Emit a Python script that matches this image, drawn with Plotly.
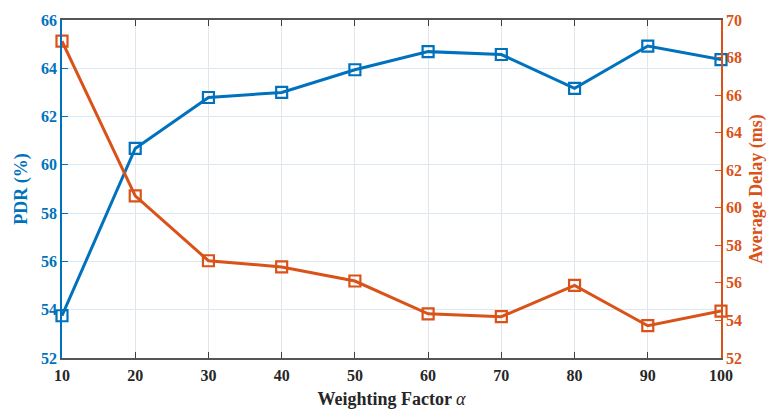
import plotly.graph_objects as go

# Weighting factor sweep
alpha = [10, 20, 30, 40, 50, 60, 70, 80, 90, 100]
pdr = [53.75, 60.68, 62.79, 63.00, 63.94, 64.69, 64.57, 63.17, 64.92, 64.36]
delay = [68.87, 60.63, 57.18, 56.85, 56.10, 54.35, 54.20, 55.87, 53.72, 54.50]

x_ticks = list(range(10, 101, 10))
pdr_ticks = list(range(52, 67, 2))
delay_ticks = list(range(52, 71, 2))

BLUE = "#0072BD"
ORANGE = "#D95319"
FONT = "Liberation Serif"


def bold(vals):
    return [f"<b>{v}</b>" for v in vals]


fig = go.Figure()
fig.add_trace(go.Scatter(
    x=alpha, y=pdr, mode="lines+markers", name="PDR",
    line=dict(color=BLUE, width=3),
    marker=dict(symbol="square-open", size=11, color=BLUE, line=dict(width=2.2, color=BLUE)),
    yaxis="y", cliponaxis=False,
))
fig.add_trace(go.Scatter(
    x=alpha, y=delay, mode="lines+markers", name="Average Delay",
    line=dict(color=ORANGE, width=3),
    marker=dict(symbol="square-open", size=11, color=ORANGE, line=dict(width=2.2, color=ORANGE)),
    yaxis="y2", cliponaxis=False,
))

fig.update_layout(
    width=769, height=409,
    margin=dict(l=62, r=48, t=20, b=51),
    paper_bgcolor="white", plot_bgcolor="white",
    showlegend=False,
    font=dict(family=FONT, size=16, color="#262626"),
    xaxis=dict(
        range=[10, 100], tickvals=x_ticks, ticktext=bold(x_ticks),
        ticks="inside", ticklen=6, ticklabelstandoff=2, automargin=False,
        tickcolor="#404040", showline=True, linecolor="#555555", linewidth=1.5,
        mirror="ticks", showgrid=True, gridcolor="#e3e5ea", gridwidth=1,
        zeroline=False,
        tickfont=dict(family=FONT, size=16, color="#262626"),
        title=dict(text="<b>Weighting Factor </b><i>α</i>", standoff=9,
                   font=dict(family=FONT, size=18, color="#262626")),
    ),
    yaxis=dict(
        range=[52, 66], tickvals=pdr_ticks, ticktext=bold(pdr_ticks),
        ticks="inside", ticklen=6, automargin=False,
        tickcolor=BLUE, showline=True, linecolor=BLUE, linewidth=1.5,
        showgrid=True, gridcolor="#dce9f5", gridwidth=1, zeroline=False,
        tickfont=dict(family=FONT, size=16, color=BLUE),
        title=dict(text="<b>PDR (%)</b>", standoff=9,
                   font=dict(family=FONT, size=18, color=BLUE)),
    ),
    yaxis2=dict(
        range=[52, 70], tickvals=delay_ticks, ticktext=bold(delay_ticks),
        ticks="inside", ticklen=6, automargin=False,
        tickcolor=ORANGE, showline=True, linecolor=ORANGE, linewidth=1.5,
        overlaying="y", side="right", showgrid=False, zeroline=False,
        tickfont=dict(family=FONT, size=16, color=ORANGE),
        title=dict(text="<b>Average Delay (ms)</b>", standoff=8,
                   font=dict(family=FONT, size=18, color=ORANGE)),
    ),
)

fig.write_html("out.html")
